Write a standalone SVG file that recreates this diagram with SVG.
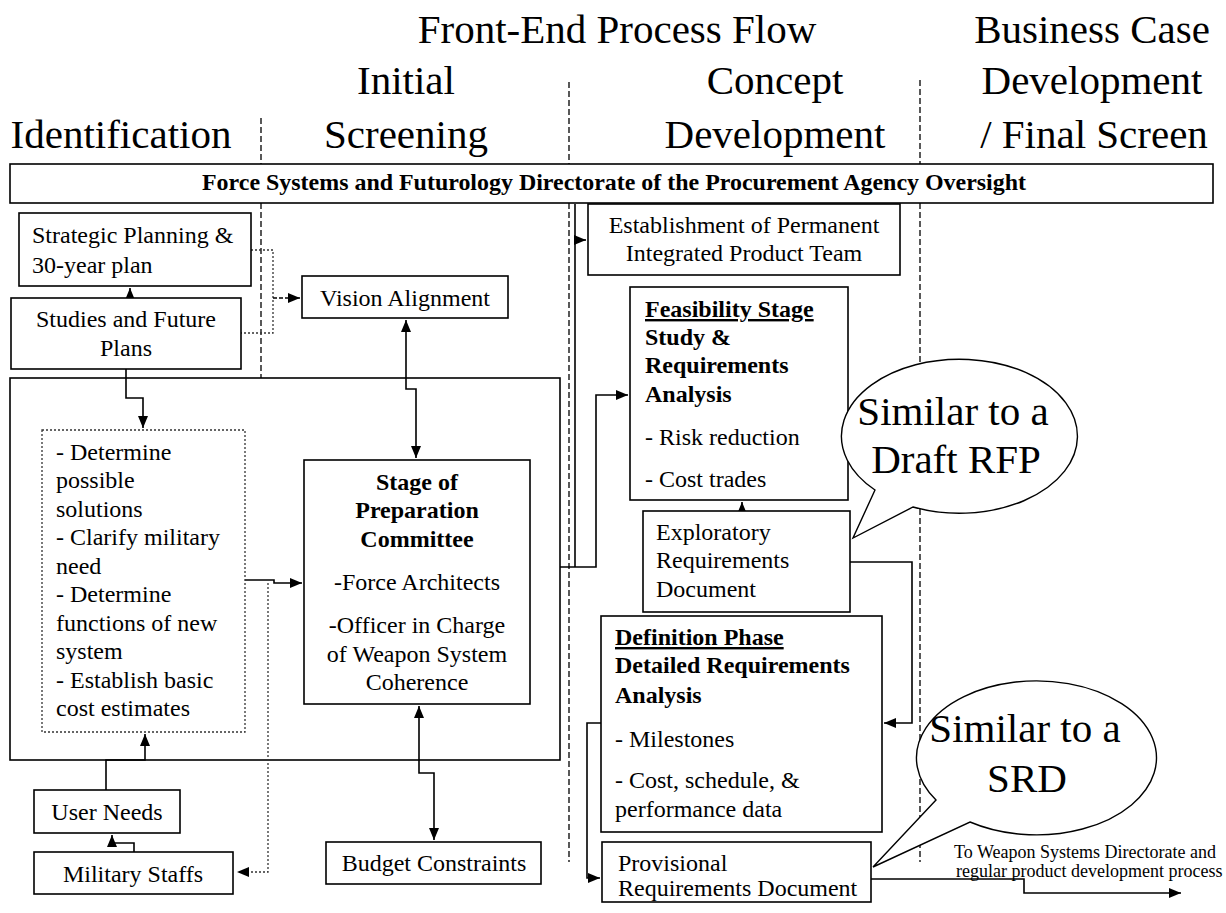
<svg xmlns="http://www.w3.org/2000/svg" width="1226" height="913" viewBox="0 0 1226 913">
<defs>
<marker id="ah" markerUnits="userSpaceOnUse" markerWidth="13" markerHeight="11" refX="12" refY="5" orient="auto-start-reverse">
<path d="M0,0 L12,5 L0,10 Z" fill="#000"/>
</marker>
<style>
text{font-family:"Liberation Serif","Times New Roman",serif;fill:#000}
.hd{font-size:41px;text-anchor:middle}
.t{font-size:24px}
.c{text-anchor:middle}
.b{font-weight:bold}
.u{text-decoration:underline}
.sm{font-size:18px}
.bx{fill:#fff;stroke:#000;stroke-width:1.6}
.div{stroke:#000;stroke-width:1.3;stroke-dasharray:6,3;fill:none}
.ln{fill:none;stroke:#000;stroke-width:1.6}
.dot{fill:none;stroke:#333;stroke-width:1.3;stroke-dasharray:2,2}
.bal{fill:#fff;stroke:#000;stroke-width:1.4}
</style>
</defs>
<rect width="1226" height="913" fill="#fff"/>

<g id="headers">
<text class="hd" x="617" y="43">Front-End Process Flow</text>
<text class="hd" x="406" y="94">Initial</text>
<text class="hd" x="775" y="94">Concept</text>
<text class="hd" x="1092" y="43">Business Case</text>
<text class="hd" x="1092" y="94">Development</text>
<text class="hd" x="121" y="148">Identification</text>
<text class="hd" x="406" y="148">Screening</text>
<text class="hd" x="775" y="148">Development</text>
<text class="hd" x="1094" y="148">/ Final Screen</text>
</g>

<g id="dividers">
<path class="div" d="M261,118 V164 M261,203 V378"/>
<path class="div" d="M569,82 V164 M569,203 V862"/>
<path class="div" d="M920,80 V164 M920,203 V862"/>
</g>

<g id="oversight">
<rect class="bx" x="10" y="164" width="1203" height="39"/>
<text class="t b c" x="614" y="190" textLength="824" lengthAdjust="spacingAndGlyphs">Force Systems and Futurology Directorate of the Procurement Agency Oversight</text>
</g>

<g id="container">
<rect x="10" y="378" width="550" height="382" fill="none" stroke="#000" stroke-width="1.6"/>
</g>

<g id="connectors">
<path class="ln" d="M130,298 V288" marker-end="url(#ah)"/>
<path class="dot" d="M251,250 H273 V333 H241"/>
<path class="ln" d="M273,298 H300" stroke-dasharray="4,2" marker-end="url(#ah)"/>
<path class="ln" d="M406,320 V389 H416 V458" marker-start="url(#ah)" marker-end="url(#ah)"/>
<path class="ln" d="M126,369 V398 H143 V428" marker-end="url(#ah)"/>
<path class="ln" d="M245,580 H274 V583 H302" marker-end="url(#ah)"/>
<path class="dot" d="M268,583 V872 H237" marker-end="url(#ah)"/>
<path class="ln" d="M106,790 V760 H145 V734" marker-end="url(#ah)"/>
<path class="ln" d="M134,852 V843 H112 V835" marker-end="url(#ah)"/>
<path class="ln" d="M419,706 V773 H434 V840" marker-start="url(#ah)" marker-end="url(#ah)"/>
<path class="ln" d="M560,567 H596 V395 H628" marker-end="url(#ah)"/>
<path class="ln" d="M575,204 V567"/>
<path class="ln" d="M575,240 H586" marker-end="url(#ah)"/>
<path class="ln" d="M742,511 V502" marker-end="url(#ah)"/>
<path class="ln" d="M850,562 H912 V723 H884" marker-end="url(#ah)"/>
<path class="ln" d="M601,723 H587 V878 H600" marker-end="url(#ah)"/>
<path class="ln" d="M871,879 H1024 V893 H1181" marker-end="url(#ah)"/>
</g>

<g id="strategic">
<rect class="bx" x="19" y="213" width="232" height="73"/>
<text class="t" x="32" y="243">Strategic Planning &amp;</text>
<text class="t" x="32" y="273">30-year plan</text>
</g>

<g id="studies">
<rect class="bx" x="11" y="298" width="230" height="71"/>
<text class="t c" x="126" y="327">Studies and Future</text>
<text class="t c" x="126" y="356">Plans</text>
</g>

<g id="vision">
<rect class="bx" x="302" y="276" width="206" height="42"/>
<text class="t c" x="405" y="306">Vision Alignment</text>
</g>

<g id="tasks">
<rect x="42" y="430" width="203" height="302" fill="#fff" stroke="#333" stroke-width="1.3" stroke-dasharray="2,2"/>
<text class="t" x="56" y="460">- Determine</text>
<text class="t" x="56" y="488">possible</text>
<text class="t" x="56" y="517">solutions</text>
<text class="t" x="56" y="545">- Clarify military</text>
<text class="t" x="56" y="574">need</text>
<text class="t" x="56" y="602">- Determine</text>
<text class="t" x="56" y="631">functions of new</text>
<text class="t" x="56" y="659">system</text>
<text class="t" x="56" y="688">- Establish basic</text>
<text class="t" x="56" y="716">cost estimates</text>
</g>

<g id="stage">
<rect class="bx" x="304" y="460" width="226" height="244"/>
<text class="t b c" x="417" y="490">Stage of</text>
<text class="t b c" x="417" y="518">Preparation</text>
<text class="t b c" x="417" y="547">Committee</text>
<text class="t c" x="417" y="590">-Force Architects</text>
<text class="t c" x="417" y="633">-Officer in Charge</text>
<text class="t c" x="417" y="662">of Weapon System</text>
<text class="t c" x="417" y="690">Coherence</text>
</g>

<g id="userneeds">
<rect class="bx" x="34" y="790" width="146" height="43"/>
<text class="t c" x="107" y="820">User Needs</text>
</g>

<g id="military">
<rect class="bx" x="34" y="852" width="199" height="42"/>
<text class="t c" x="133" y="882">Military Staffs</text>
</g>

<g id="budget">
<rect class="bx" x="326" y="842" width="215" height="42"/>
<text class="t c" x="434" y="871">Budget Constraints</text>
</g>

<g id="establishment">
<rect class="bx" x="588" y="204" width="312" height="71"/>
<text class="t c" x="744" y="233">Establishment of Permanent</text>
<text class="t c" x="744" y="261">Integrated Product Team</text>
</g>

<g id="feasibility">
<rect class="bx" x="630" y="287" width="218" height="213"/>
<text class="t b u" x="645" y="317">Feasibility Stage</text>
<text class="t b" x="645" y="345">Study &amp;</text>
<text class="t b" x="645" y="373">Requirements</text>
<text class="t b" x="645" y="402">Analysis</text>
<text class="t" x="645" y="445">- Risk reduction</text>
<text class="t" x="645" y="487">- Cost trades</text>
</g>

<g id="exploratory">
<rect class="bx" x="643" y="511" width="207" height="101"/>
<text class="t" x="656" y="540">Exploratory</text>
<text class="t" x="656" y="568">Requirements</text>
<text class="t" x="656" y="597">Document</text>
</g>

<g id="definition">
<rect class="bx" x="601" y="616" width="281" height="216"/>
<text class="t b u" x="615" y="645">Definition Phase</text>
<text class="t b" x="615" y="673">Detailed Requirements</text>
<text class="t b" x="615" y="703">Analysis</text>
<text class="t" x="615" y="747">- Milestones</text>
<text class="t" x="615" y="788">- Cost, schedule, &amp;</text>
<text class="t" x="615" y="817">performance data</text>
</g>

<g id="provisional">
<rect class="bx" x="602" y="842" width="269" height="60"/>
<text class="t" x="618" y="871">Provisional</text>
<text class="t" x="618" y="896">Requirements Document</text>
</g>

<g id="balloon-rfp">
<path class="bal" d="M875,490 L853,538 L913,507 A118,77 0 1 0 875,490 Z"/>
<text class="hd" x="953" y="425">Similar to a</text>
<text class="hd" x="956" y="473">Draft RFP</text>
</g>

<g id="balloon-srd">
<path class="bal" d="M936,800 L873,867 L970,822 A120,77 0 1 0 936,800 Z"/>
<text class="hd" x="1025" y="742">Similar to a</text>
<text class="hd" x="1027" y="792">SRD</text>
</g>

<g id="outlabel">
<text class="sm" x="954" y="858">To Weapon Systems Directorate and</text>
<text class="sm" x="956" y="877">regular product development process</text>
</g>
</svg>
